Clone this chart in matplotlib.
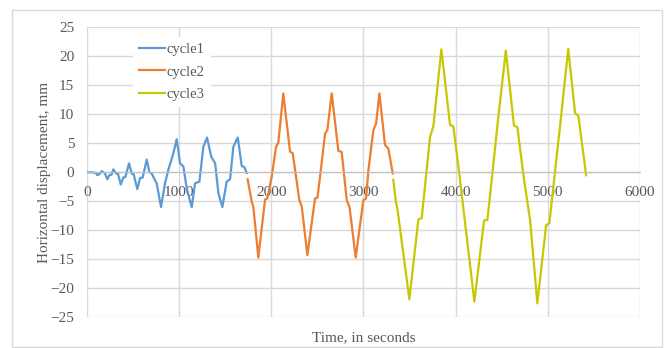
import matplotlib
matplotlib.use('Agg')
import matplotlib.pyplot as plt
from matplotlib.patches import Rectangle

# displacement records for the three loading cycles (time in s, displacement in mm)
t1 = [0, 50, 100, 115, 140, 162, 198, 224, 245, 270, 289, 318, 340, 369, 397,
      420, 459, 488, 510, 549, 578, 607, 651, 680, 705, 744, 759, 806, 849, 885,
      940, 976, 1012, 1048, 1085, 1139, 1175, 1222, 1265, 1305, 1350, 1393, 1428,
      1471, 1518, 1555, 1590, 1638, 1681, 1710, 1735]
y1 = [0, 0, -0.1, -0.5, -0.3, 0.2, -0.2, -1.2, -0.5, -0.4, 0.5, -0.2, -0.3, -2.1, -0.9,
      -0.8, 1.55, -0.2, -0.4, -2.9, -1.0, -0.9, 2.2, 0.0, -0.2, -1.5, -1.9, -6.0, -1.9, 0.4,
      3.3, 5.7, 1.55, 1.0, -2.8, -6.0, -1.9, -1.6, 4.4, 6.0, 2.7, 1.55, -3.6,
      -6.0, -1.6, -1.2, 4.4, 6.0, 1.1, 0.9, -0.1]

t2 = [1745, 1790, 1807, 1861, 1934, 1959, 2006, 2053, 2078, 2132, 2205, 2234, 2306,
      2332, 2393, 2476, 2502, 2530, 2585, 2610, 2657, 2729, 2765, 2820, 2850, 2917,
      3000, 3030, 3055, 3109, 3138, 3174, 3235, 3271, 3319]
y2 = [-1.2, -5.1, -5.9, -14.7, -4.7, -4.5, -0.8, 4.4, 5.1, 13.6, 3.55, 3.3, -4.8,
      -5.9, -14.3, -4.5, -4.4, -0.8, 6.7, 7.3, 13.6, 3.7, 3.5, -4.8, -6.0, -14.7,
      -4.8, -4.5, 0.4, 7.3, 8.4, 13.6, 4.7, 4.1, -0.2]

t3 = [3325, 3355, 3369, 3499, 3597, 3633, 3723, 3759, 3846, 3940, 3976, 4049, 4078,
      4204, 4309, 4345, 4392, 4460, 4545, 4634, 4670, 4743, 4808, 4887, 4982, 5017,
      5140, 5222, 5296, 5332, 5416]
y3 = [-1.3, -5.3, -6.2, -21.9, -8.1, -7.9, 6.1, 7.9, 21.2, 8.2, 7.9, -1.3, -5.3,
      -22.3, -8.3, -8.2, -1.3, 9.0, 21.0, 8.0, 7.8, -1.3, -8.2, -22.6, -9.1, -8.8,
      9.0, 21.3, 10.2, 9.7, -0.5]

plt.rcParams['font.family'] = ['Liberation Serif', 'DejaVu Serif']
grey = '#595959'

fig = plt.figure(figsize=(6.67, 3.48), dpi=100)
# chart area border
fig.patches.append(Rectangle((12 / 667, 1 / 348), 650 / 667, 337 / 348,
                             transform=fig.transFigure, fill=False,
                             edgecolor='#d9d9d9', linewidth=1))
ax = fig.add_axes([0.130, 0.0882, 0.8295, 0.8334])

ax.plot(t1, y1, color='#5B9BD5', lw=1.6, label='cycle1')
ax.plot(t2, y2, color='#ED7D31', lw=1.6, label='cycle2')
ax.plot(t3, y3, color='#C8C800', lw=1.6, label='cycle3')

ax.set_xlim(0, 6000)
ax.set_ylim(-25, 25)
ax.set_xticks(range(0, 6001, 1000))
ax.set_yticks(range(-25, 26, 5))
ax.grid(True, color='#d9d9d9', lw=1)
ax.set_axisbelow(True)
for s in ['top', 'right', 'left']:
    ax.spines[s].set_visible(False)
ax.spines['bottom'].set_position(('data', 0))
ax.spines['bottom'].set_color('#bfbfbf')
ax.tick_params(length=0, labelsize=11, colors=grey)
ax.tick_params(axis='y', pad=9)
ax.tick_params(axis='x', pad=10)

ax.set_ylabel('Horizontal displacement, mm', fontsize=11, color=grey)
ax.yaxis.set_label_coords(-0.065, 0.5)
ax.text(0.5, -0.07, 'Time, in seconds', transform=ax.transAxes, ha='center',
        va='center', fontsize=11, color=grey)

leg = ax.legend(loc='upper left', bbox_to_anchor=(0.084, 0.967), fontsize=10.5,
                frameon=True, facecolor='white', edgecolor='none', framealpha=1,
                handlelength=1.8, handletextpad=0.1, labelspacing=0.65,
                borderaxespad=0, fancybox=False)
for txt in leg.get_texts():
    txt.set_color(grey)

fig.savefig('out.png', dpi=100)
